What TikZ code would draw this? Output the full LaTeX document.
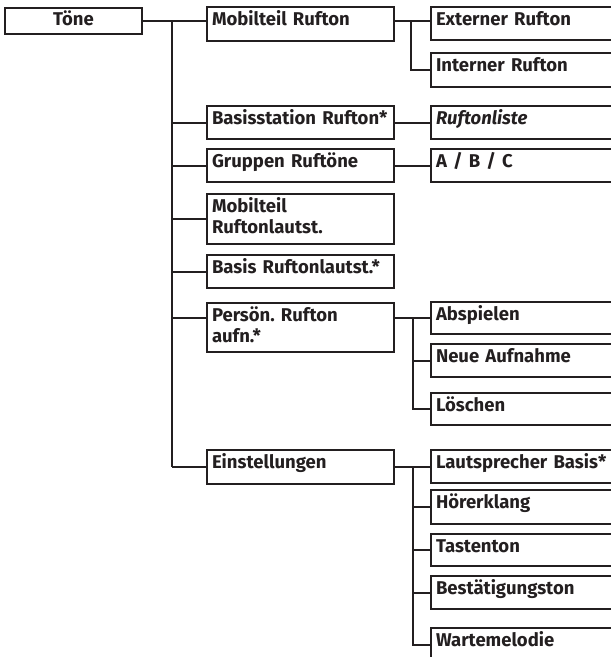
\documentclass[tikz,border=0pt]{standalone}
\usepackage{fontspec}
\setmainfont{Fira Sans}
\usetikzlibrary{calc}
\definecolor{ink}{HTML}{231F20}
\frenchspacing
\tikzset{
  bx/.style={draw=ink, line width=2pt, anchor=north west, inner xsep=5pt, inner ysep=0pt,
    text height=18pt, align=left, text=ink, font=\bfseries\fontsize{18.5}{21.5}\selectfont},
  topbox/.style={bx, align=center, minimum width=137pt, text width=127pt},
  midbox/.style={bx, minimum width=187pt, text width=177pt},
  rbox/.style={bx, minimum width=230pt, text width=220pt},
  ln/.style={draw=ink, line width=2pt}
}
\begin{document}
\begin{tikzpicture}[x=1pt,y=-1pt]
\path[use as bounding box] (0,0) rectangle (611,657);
\clip (0,0) rectangle (611,657);
% top
\node[topbox, minimum height=26pt, text height=17pt, text depth=9pt] (toene) at (4,7) {Töne};
% middle column
\node[midbox, minimum height=34pt, text depth=16pt] (mr) at (206,6) {Mobilteil Rufton};
\node[midbox, minimum height=33pt, text depth=15pt] (bs) at (206,105) {Basisstation Rufton*};
\node[midbox, minimum height=33pt, text depth=15pt] (gr) at (206,148) {Gruppen Ruftöne};
\node[midbox, minimum height=50pt, text depth=32pt] (ml) at (206,193) {Mobilteil\\Ruftonlautst.};
\node[midbox, minimum height=33pt, text depth=15pt] (br) at (206,254) {Basis Ruftonlautst.*};
\node[midbox, minimum height=49pt, text depth=31pt] (pr) at (206,302) {Persön. Rufton\\aufn.*};
\node[midbox, minimum height=34pt, text depth=16pt] (ei) at (206,449) {Einstellungen};
% right column
\node[rbox, minimum height=33pt, text depth=15pt] (ex) at (430,6) {Externer Rufton};
\node[rbox, minimum height=34pt, text depth=16pt] (in) at (430,52) {Interner Rufton};
\node[rbox, minimum height=33pt, text depth=15pt] (rl) at (430,105) {\textit{Ruftonliste}};
\node[rbox, minimum height=33pt, text depth=15pt] (abc) at (430,148) {A / B / C};
\node[rbox, minimum height=32pt, text depth=14pt] (ab) at (430,301) {Abspielen};
\node[rbox, minimum height=33pt, text depth=15pt] (na) at (430,343) {Neue Aufnahme};
\node[rbox, minimum height=32pt, text depth=14pt] (lo) at (430,392) {Löschen};
\node[rbox, minimum height=33pt, text depth=15pt] (ls) at (430,449) {Lautsprecher Basis*};
\node[rbox, minimum height=34pt, text depth=16pt] (hk) at (430,489) {Hörerklang};
\node[rbox, minimum height=32pt, text depth=14pt] (tt) at (430,533) {Tastenton};
\node[rbox, minimum height=33pt, text depth=15pt] (bt) at (430,575) {Bestätigungston};
\node[rbox, minimum height=33pt, text depth=15pt] (wm) at (430,627) {Wartemelodie};
% branch points
\coordinate (t0) at (172,20);
\coordinate (b1) at (411,0);
\coordinate (b2) at (413,0);
\coordinate (prc) at ($(pr.north west)+(0,16)$);
% trunk connectors
\draw[ln] (toene.east) -- (mr.west |- toene.east);
\draw[ln] (t0) -- (t0 |- ei.west);
\draw[ln] (t0 |- bs.west) -- (bs.west);
\draw[ln] (t0 |- gr.west) -- (gr.west);
\draw[ln] (t0 |- ml.west) -- (ml.west);
\draw[ln] (t0 |- br.west) -- (br.west);
\draw[ln] (t0 |- prc) -- (prc);
\draw[ln] (t0 |- ei.west) -- (ei.west);
% right connectors
\draw[ln] (mr.east |- toene.east) -- (ex.west |- toene.east);
\draw[ln] (b1 |- toene.east) |- (in.west);
\draw[ln] (bs.east) -- (rl.west);
\draw[ln] (gr.east) -- (abc.west);
\draw[ln] (pr.east |- ab.west) -- (ab.west);
\draw[ln] (b2 |- ab.west) |- (lo.west);
\draw[ln] (b2 |- na.west) -- (na.west);
\draw[ln] (ei.east |- ls.west) -- (ls.west);
\draw[ln] (b2 |- ls.west) |- (wm.west);
\draw[ln] (b2 |- hk.west) -- (hk.west);
\draw[ln] (b2 |- tt.west) -- (tt.west);
\draw[ln] (b2 |- bt.west) -- (bt.west);
\end{tikzpicture}
\end{document}
